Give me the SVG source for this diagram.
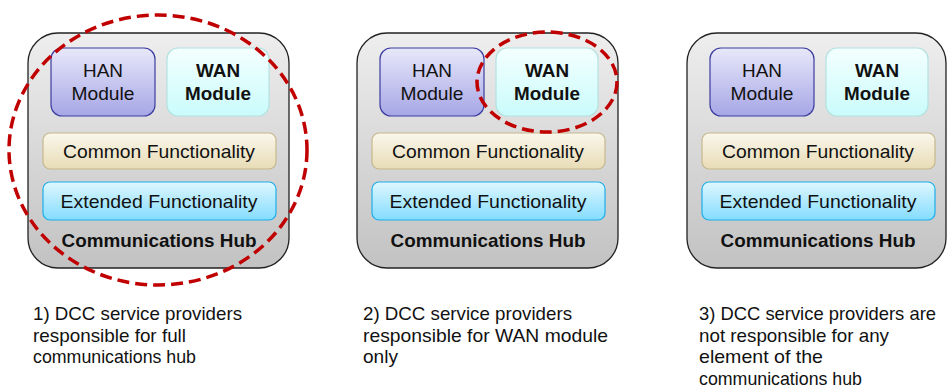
<svg xmlns="http://www.w3.org/2000/svg" width="947" height="389" viewBox="0 0 947 389">
<defs>
<linearGradient id="gHub" x1="0" y1="0" x2="0" y2="1"><stop offset="0" stop-color="#eeeeee"/><stop offset="1" stop-color="#c2c2c2"/></linearGradient>
<linearGradient id="gHan" x1="0" y1="0" x2="0" y2="1"><stop offset="0" stop-color="#e8e8fa"/><stop offset="1" stop-color="#a6a6e6"/></linearGradient>
<linearGradient id="gWan" x1="0" y1="0" x2="0" y2="1"><stop offset="0" stop-color="#f4ffff"/><stop offset="1" stop-color="#cafbfb"/></linearGradient>
<linearGradient id="gCom" x1="0" y1="0" x2="0" y2="1"><stop offset="0" stop-color="#faf7ec"/><stop offset="1" stop-color="#e8dcb6"/></linearGradient>
<linearGradient id="gExt" x1="0" y1="0" x2="0" y2="1"><stop offset="0" stop-color="#def7fe"/><stop offset="1" stop-color="#84dcfe"/></linearGradient>
</defs>
<style>
text{font-family:"Liberation Sans",Arial,sans-serif;fill:#111}
.hub{fill:url(#gHub);stroke:#222;stroke-width:1.3}
.han{fill:url(#gHan);stroke:#3c3ca0;stroke-width:1.2}
.wan{fill:url(#gWan);stroke:#b4e2e2;stroke-width:1.2}
.com{fill:url(#gCom);stroke:#c6b78c;stroke-width:1.2}
.ext{fill:url(#gExt);stroke:#1eaeea;stroke-width:1.2}
.lbl{font-size:19px;text-anchor:middle}
.bold{font-weight:bold}
.cap{font-size:19px}
.ring{fill:none;stroke:#c00000;stroke-width:3.5;stroke-dasharray:12 6}
</style>

<g id="hub1">
<rect class="hub" x="28" y="33" width="261" height="235" rx="30"/>
<rect class="han" x="51" y="48" width="104" height="68" rx="11"/>
<text class="lbl" x="103" y="77" textLength="40" lengthAdjust="spacingAndGlyphs">HAN</text>
<text class="lbl" x="103" y="100" textLength="63" lengthAdjust="spacingAndGlyphs">Module</text>
<rect class="wan" x="167" y="48" width="102" height="68" rx="11"/>
<text class="lbl bold" x="218" y="77" textLength="44" lengthAdjust="spacingAndGlyphs">WAN</text>
<text class="lbl bold" x="218" y="100" textLength="66" lengthAdjust="spacingAndGlyphs">Module</text>
<rect class="com" x="43" y="133" width="233" height="36" rx="7"/>
<text class="lbl" x="159" y="158" textLength="192" lengthAdjust="spacingAndGlyphs">Common Functionality</text>
<rect class="ext" x="43" y="182" width="233" height="38" rx="7"/>
<text class="lbl" x="159" y="208" textLength="197" lengthAdjust="spacingAndGlyphs">Extended Functionality</text>
<text class="lbl bold" x="159" y="247" textLength="195" lengthAdjust="spacingAndGlyphs">Communications Hub</text>
</g>

<g id="hub2">
<rect class="hub" x="357" y="33" width="261" height="235" rx="30"/>
<rect class="han" x="380" y="48" width="104" height="68" rx="11"/>
<text class="lbl" x="432" y="77" textLength="40" lengthAdjust="spacingAndGlyphs">HAN</text>
<text class="lbl" x="432" y="100" textLength="63" lengthAdjust="spacingAndGlyphs">Module</text>
<rect class="wan" x="496" y="48" width="102" height="68" rx="11"/>
<text class="lbl bold" x="547" y="77" textLength="44" lengthAdjust="spacingAndGlyphs">WAN</text>
<text class="lbl bold" x="547" y="100" textLength="66" lengthAdjust="spacingAndGlyphs">Module</text>
<rect class="com" x="372" y="133" width="233" height="36" rx="7"/>
<text class="lbl" x="488" y="158" textLength="192" lengthAdjust="spacingAndGlyphs">Common Functionality</text>
<rect class="ext" x="372" y="182" width="233" height="38" rx="7"/>
<text class="lbl" x="488" y="208" textLength="197" lengthAdjust="spacingAndGlyphs">Extended Functionality</text>
<text class="lbl bold" x="488" y="247" textLength="195" lengthAdjust="spacingAndGlyphs">Communications Hub</text>
</g>

<g id="hub3">
<rect class="hub" x="687" y="33" width="259" height="235" rx="30"/>
<rect class="han" x="710" y="48" width="104" height="68" rx="11"/>
<text class="lbl" x="762" y="77" textLength="40" lengthAdjust="spacingAndGlyphs">HAN</text>
<text class="lbl" x="762" y="100" textLength="63" lengthAdjust="spacingAndGlyphs">Module</text>
<rect class="wan" x="826" y="48" width="102" height="68" rx="11"/>
<text class="lbl bold" x="877" y="77" textLength="44" lengthAdjust="spacingAndGlyphs">WAN</text>
<text class="lbl bold" x="877" y="100" textLength="66" lengthAdjust="spacingAndGlyphs">Module</text>
<rect class="com" x="702" y="133" width="233" height="36" rx="7"/>
<text class="lbl" x="818" y="158" textLength="192" lengthAdjust="spacingAndGlyphs">Common Functionality</text>
<rect class="ext" x="702" y="182" width="233" height="38" rx="7"/>
<text class="lbl" x="818" y="208" textLength="197" lengthAdjust="spacingAndGlyphs">Extended Functionality</text>
<text class="lbl bold" x="818" y="247" textLength="195" lengthAdjust="spacingAndGlyphs">Communications Hub</text>
</g>

<g id="highlights">
<ellipse class="ring" cx="158" cy="150" rx="149" ry="135"/>
<ellipse class="ring" cx="547" cy="82" rx="70" ry="50"/>
</g>

<g id="caption1">
<text class="cap" x="33" y="320" textLength="209" lengthAdjust="spacingAndGlyphs">1) DCC service providers</text>
<text class="cap" x="33" y="342" textLength="153" lengthAdjust="spacingAndGlyphs">responsible for full</text>
<text class="cap" x="33" y="363" textLength="163" lengthAdjust="spacingAndGlyphs">communications hub</text>
</g>
<g id="caption2">
<text class="cap" x="363" y="320" textLength="209" lengthAdjust="spacingAndGlyphs">2) DCC service providers</text>
<text class="cap" x="363" y="342" textLength="245" lengthAdjust="spacingAndGlyphs">responsible for WAN module</text>
<text class="cap" x="363" y="363" textLength="35" lengthAdjust="spacingAndGlyphs">only</text>
</g>
<g id="caption3">
<text class="cap" x="699" y="320" textLength="237" lengthAdjust="spacingAndGlyphs">3) DCC service providers are</text>
<text class="cap" x="699" y="342" textLength="190" lengthAdjust="spacingAndGlyphs">not responsible for any</text>
<text class="cap" x="699" y="363" textLength="124" lengthAdjust="spacingAndGlyphs">element of the</text>
<text class="cap" x="699" y="385" textLength="163" lengthAdjust="spacingAndGlyphs">communications hub</text>
</g>
</svg>
